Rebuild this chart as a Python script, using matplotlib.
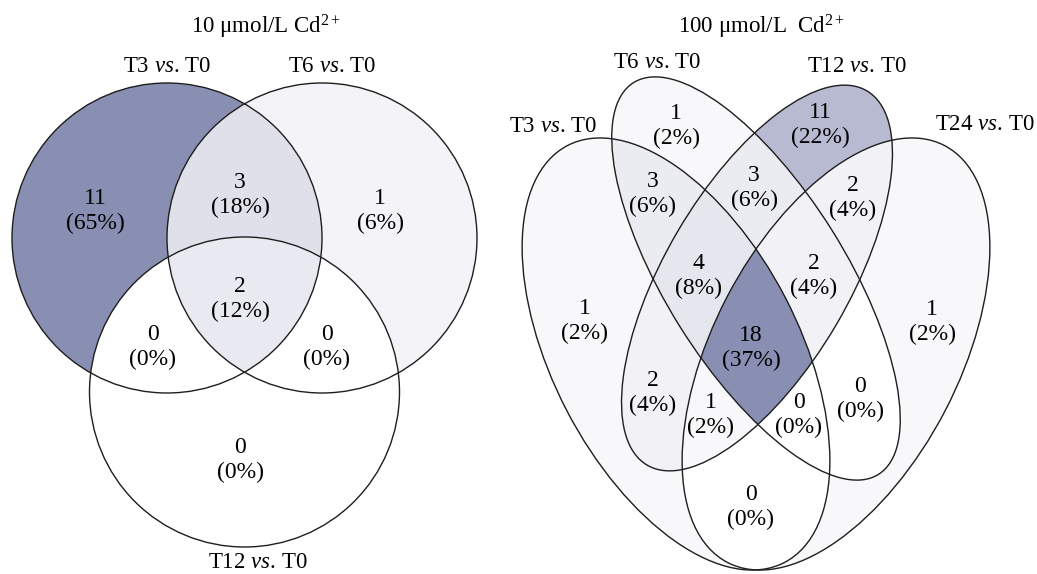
import numpy as np
import matplotlib.pyplot as plt
from matplotlib.patches import Circle, Ellipse
from matplotlib.colors import LinearSegmentedColormap

plt.rcParams['font.family'] = 'Liberation Serif'
plt.rcParams['mathtext.fontset'] = 'custom'
plt.rcParams['mathtext.rm'] = 'Liberation Serif'
plt.rcParams['mathtext.it'] = 'Liberation Serif:italic'

# 10 umol/L Cd2+ : three comparisons, region key = membership in (T3, T6, T12)
names_10 = ['T3', 'T6', 'T12']
regions_10 = ['100', '010', '001', '110', '101', '011', '111']
counts_10 = [11, 1, 0, 3, 0, 0, 2]

# 100 umol/L Cd2+ : four comparisons, membership in (T3, T6, T12, T24)
names_100 = ['T3', 'T6', 'T12', 'T24']
regions_100 = ['1000', '0100', '0010', '0001', '1100', '0110', '0011', '1110',
               '0111', '1111', '1010', '1011', '1101', '0101', '1001']
counts_100 = [1, 1, 11, 1, 3, 3, 2, 4, 2, 18, 2, 1, 0, 0, 0]

titles = ['10 μmol/L Cd$^{2+}$', '100 μmol/L  Cd$^{2+}$']

W, H = 1037, 574
fig = plt.figure(figsize=(W / 100, H / 100), dpi=100)
ax = fig.add_axes([0, 0, 1, 1])

cmap = LinearSegmentedColormap.from_list('venn', ['#ffffff', '#8a8fb3'])

# layout (pixel-like coordinates, y downwards)
shapes_10 = [Circle((167, 238), 155), Circle((322, 238), 155), Circle((244.5, 392), 155)]
shapes_100 = [Ellipse((676, 354), 470, 246, angle=62.5),
              Ellipse((756, 278.5), 462, 180, angle=58),
              Ellipse((757, 278), 434, 184, angle=-59.6),
              Ellipse((836, 354), 470, 246, angle=-62.5)]
count_pos_10 = [(95, 211), (380, 211), (240, 460), (240, 195),
                (153, 347), (327, 347), (240, 299)]
count_pos_100 = [(585, 321), (676, 126), (820, 125), (932, 322), (653, 194),
                 (754, 188), (853, 198), (698, 276), (814, 276), (751, 348),
                 (653, 393), (711, 415), (799, 415), (860, 399), (751, 507)]
set_label_pos_10 = [(167, 66), (332, 66), (258, 563)]
set_label_pos_100 = [(553, 126), (657, 62), (857, 66), (985, 125)]
title_pos = [(266, 27), (762, 27)]

ss = 2
xs = (np.arange(W * ss) + 0.5) / ss
ys = (np.arange(H * ss) + 0.5) / ss
X, Y = np.meshgrid(xs, ys)
pts = np.column_stack([X.ravel(), Y.ravel()])
img = np.ones((H * ss, W * ss, 3))


def inside(p):
    path = p.get_patch_transform().transform_path(p.get_path())
    return path.contains_points(pts).reshape(X.shape)


def draw_venn(shapes, names, regions, counts, count_pos, label_pos):
    masks = [inside(s) for s in shapes]
    total = sum(counts)
    vmax = max(counts)
    for key, n, (cx, cy) in zip(regions, counts, count_pos):
        m = np.ones(X.shape, dtype=bool)
        for bit, mk in zip(key, masks):
            m &= mk if bit == '1' else ~mk
        img[m] = cmap(n / vmax)[:3]
        pct = int(100 * n / total + 0.5)
        ax.text(cx, cy, f'{n}\n({pct}%)', ha='center', va='center',
                fontsize=17, linespacing=1.2)
    for s, nm, (lx, ly) in zip(shapes, names, label_pos):
        s.set_fill(False)
        s.set_edgecolor('#1e1e1e')
        s.set_linewidth(1.0)
        ax.add_patch(s)
        ax.text(lx, ly, nm + ' $\\mathit{vs}$. T0', ha='center', va='center', fontsize=16.5)


draw_venn(shapes_10, names_10, regions_10, counts_10, count_pos_10, set_label_pos_10)
draw_venn(shapes_100, names_100, regions_100, counts_100, count_pos_100, set_label_pos_100)

for t, (tx, ty) in zip(titles, title_pos):
    ax.text(tx, ty, t, ha='center', va='center', fontsize=16.5)

ax.imshow(img, extent=(0, W, H, 0), interpolation='antialiased', zorder=0)
ax.set_xlim(0, W)
ax.set_ylim(H, 0)
ax.axis('off')

fig.savefig('out.png', dpi=100)
